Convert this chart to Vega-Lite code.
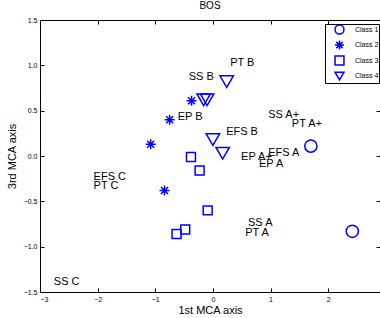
{
  "$schema": "https://vega.github.io/schema/vega-lite/v6.json",
  "autosize": "none",
  "width": 340,
  "height": 272,
  "padding": {"left": 40, "top": 20, "right": 0, "bottom": 26},
  "background": "white",
  "title": {"text": "BOS", "fontSize": 10, "fontWeight": "normal", "font": "Liberation Sans", "offset": 5, "color": "black"},
  "config": {
    "view": {"stroke": "black", "strokeWidth": 1},
    "axis": {
      "grid": false,
      "domainColor": "black",
      "tickColor": "black",
      "tickSize": -4,
      "labelFontSize": 7,
      "labelFont": "Liberation Sans",
      "labelColor": "black",
      "titleFont": "Liberation Sans",
      "titleFontSize": 11,
      "titleFontWeight": "normal",
      "titleColor": "black",
      "labelPadding": 7
    }
  },
  "datasets": {
    "pts": [
      {"x": 1.70, "y": 0.11, "cls": "Class 1"},
      {"x": 2.42, "y": -0.83, "cls": "Class 1"},
      {"x": -0.37, "y": 0.61, "cls": "Class 2"},
      {"x": -0.75, "y": 0.40, "cls": "Class 2"},
      {"x": -1.08, "y": 0.13, "cls": "Class 2"},
      {"x": -0.84, "y": -0.38, "cls": "Class 2"},
      {"x": -0.38, "y": -0.01, "cls": "Class 3"},
      {"x": -0.23, "y": -0.16, "cls": "Class 3"},
      {"x": -0.09, "y": -0.60, "cls": "Class 3"},
      {"x": -0.48, "y": -0.81, "cls": "Class 3"},
      {"x": -0.63, "y": -0.86, "cls": "Class 3"},
      {"x": 0.24, "y": 0.82, "cls": "Class 4"},
      {"x": -0.16, "y": 0.62, "cls": "Class 4"},
      {"x": -0.10, "y": 0.62, "cls": "Class 4"},
      {"x": 0.00, "y": 0.18, "cls": "Class 4"},
      {"x": 0.17, "y": 0.03, "cls": "Class 4"}
    ],
    "labels": [
      {"x": 0.30, "y": 1.03, "label": "PT B"},
      {"x": -0.42, "y": 0.87, "label": "SS B"},
      {"x": -0.61, "y": 0.43, "label": "EP B"},
      {"x": 0.23, "y": 0.26, "label": "EFS B"},
      {"x": 0.96, "y": 0.45, "label": "SS A+"},
      {"x": 1.37, "y": 0.35, "label": "PT A+"},
      {"x": 0.49, "y": -0.01, "label": "EP A+"},
      {"x": 0.96, "y": 0.03, "label": "EFS A"},
      {"x": 0.80, "y": -0.09, "label": "EP A"},
      {"x": 0.61, "y": -0.74, "label": "SS A"},
      {"x": 0.56, "y": -0.85, "label": "PT A"},
      {"x": -2.07, "y": -0.23, "label": "EFS C"},
      {"x": -2.07, "y": -0.33, "label": "PT C"},
      {"x": -2.76, "y": -1.39, "label": "SS C"}
    ]
  },
  "layer": [
    {
      "data": {"name": "pts"},
      "mark": {"type": "point", "filled": false, "strokeWidth": 1.5, "color": "#0000ff", "opacity": 1},
      "encoding": {
        "x": {"field": "x", "type": "quantitative", "scale": {"domain": [-3, 2.9], "nice": false, "zero": false}, "axis": {"values": [-3, -2, -1, 0, 1, 2], "title": "1st MCA axis", "titlePadding": 2}},
        "y": {"field": "y", "type": "quantitative", "scale": {"domain": [-1.5, 1.5], "nice": false, "zero": false}, "axis": {"values": [-1.5, -1, -0.5, 0, 0.5, 1, 1.5], "title": "3rd MCA axis", "titlePadding": 6}},
        "shape": {
          "field": "cls", "type": "nominal",
          "scale": {"domain": ["Class 1", "Class 2", "Class 3", "Class 4"], "range": ["circle", "M-1,0L1,0M0,-1L0,1M-0.7,-0.7L0.7,0.7M-0.7,0.7L0.7,-0.7", "square", "triangle-down"]},
          "legend": {
            "title": null, "orient": "none", "legendX": 285, "legendY": 4,
            "fillColor": "white", "strokeColor": "black", "padding": 0,
            "labelFontSize": 7, "labelFont": "Liberation Sans", "labelColor": "black",
            "symbolSize": 80, "rowPadding": 0.5, "symbolStrokeColor": "#0000ff", "symbolStrokeWidth": 1.5,
            "symbolOffset": 9, "labelOffset": 10
          }
        },
        "size": {
          "condition": [
            {"test": "datum.cls === 'Class 1'", "value": 150},
            {"test": "datum.cls === 'Class 2'", "value": 100},
            {"test": "datum.cls === 'Class 3'", "value": 80}
          ],
          "value": 180
        }
      }
    },
    {
      "data": {"name": "labels"},
      "mark": {"type": "text", "align": "left", "baseline": "middle", "fontSize": 11, "font": "Liberation Sans", "color": "black"},
      "encoding": {
        "x": {"field": "x", "type": "quantitative", "axis": null},
        "y": {"field": "y", "type": "quantitative", "axis": null},
        "text": {"field": "label"}
      }
    },
    {
      "data": {"name": "pts"},
      "mark": {"type": "point", "opacity": 0},
      "encoding": {
        "x": {"field": "x", "type": "quantitative", "axis": {"orient": "top", "values": [-3, -2, -1, 0, 1, 2], "labels": false, "title": null}},
        "y": {"field": "y", "type": "quantitative", "axis": {"orient": "right", "values": [-1.5, -1, -0.5, 0, 0.5, 1, 1.5], "labels": false, "title": null}}
      }
    }
  ],
  "resolve": {"axis": {"x": "independent", "y": "independent"}}
}
